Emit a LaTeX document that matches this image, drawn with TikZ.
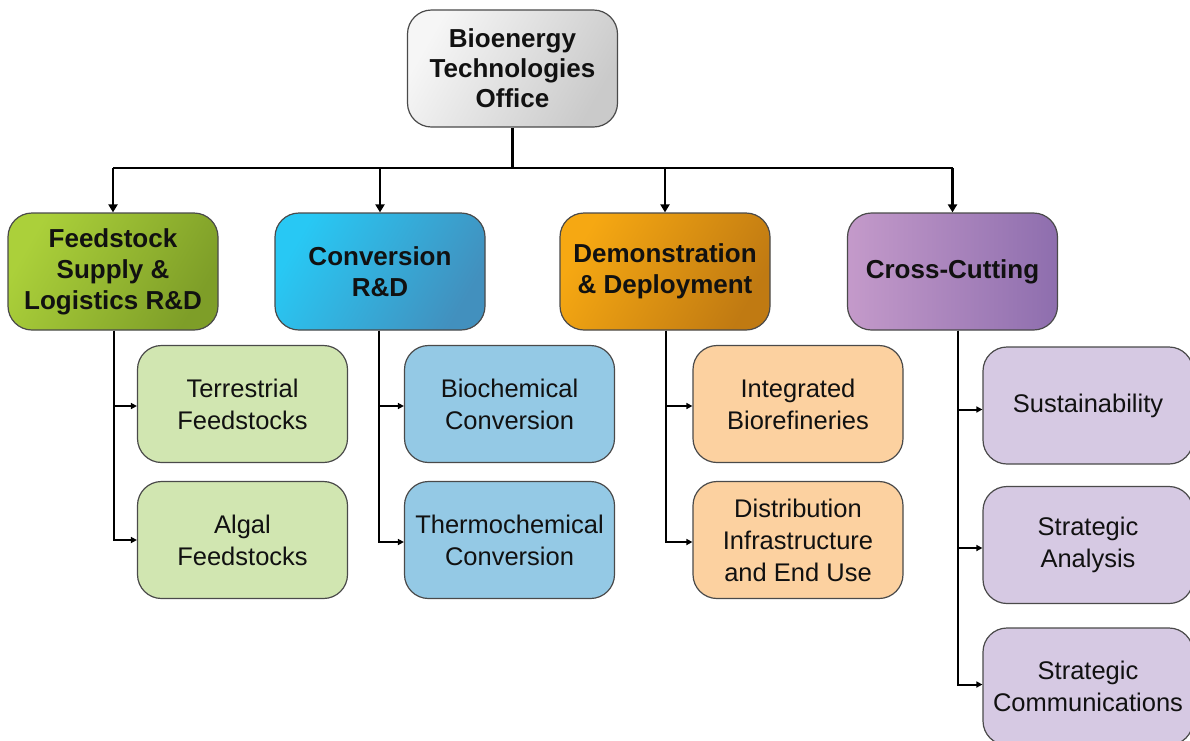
\documentclass[tikz,border=0pt]{standalone}
\usepackage{fontspec}
\setmainfont{Liberation Sans}
\usetikzlibrary{arrows.meta}
\definecolor{txt}{HTML}{111111}
\definecolor{edge}{HTML}{4A4A4A}
\definecolor{topA}{HTML}{F6F6F6}
\definecolor{topB}{HTML}{CACACA}
\definecolor{grA}{HTML}{ABD03A}
\definecolor{grB}{HTML}{7E9E28}
\definecolor{blA}{HTML}{28C8F4}
\definecolor{blB}{HTML}{4290BE}
\definecolor{orA}{HTML}{F6A812}
\definecolor{orB}{HTML}{C07A12}
\definecolor{puA}{HTML}{C49ACA}
\definecolor{puB}{HTML}{8E6EAE}
\definecolor{grL}{HTML}{D1E6B1}
\definecolor{blL}{HTML}{94C9E5}
\definecolor{orL}{HTML}{FCD1A0}
\definecolor{puL}{HTML}{D6C9E3}
\tikzset{
  box/.style={draw=edge, line width=1.2pt, rounded corners=24pt,
    minimum width=210pt, minimum height=117pt, align=center, text=txt,
    inner sep=0pt},
  headbox/.style={box, font=\fontsize{26}{31}\selectfont\bfseries},
  subbox/.style={box, font=\fontsize{25.5}{32}\selectfont},
  mainline/.style={line width=2.3pt, draw=black},
  mainarrow/.style={mainline, -{Triangle[length=8pt,width=9pt]}},
  subarrow/.style={line width=2pt, draw=black, -{Triangle[length=6pt,width=6pt]}},
}
\begin{document}
\begin{tikzpicture}[x=1pt,y=-1pt]
\useasboundingbox (0,0) rectangle (1190,740);
\clip (0,0) rectangle (1190,740);
\fill[white] (0,0) rectangle (1190,740);

% top
\node[headbox, font=\fontsize{26}{30}\selectfont\bfseries, left color=topA, right color=topB, shading angle=60] (top) at (512.5,68.5) {Bioenergy\\Technologies\\Office};

% categories
\node[headbox, left color=grA, right color=grB, shading angle=60] (fs) at (113,271.5) {Feedstock\\Supply \&\\Logistics R\&D};
\node[headbox, left color=blA, right color=blB, shading angle=60] (cv) at (380,271.5) {Conversion\\R\&D};
\node[headbox, left color=orA, right color=orB, shading angle=60] (dd) at (665,271.5) {Demonstration\\\& Deployment};
\node[headbox, left color=puA, right color=puB] (cc) at (952.5,271.5) {Cross-Cutting};

% sub boxes
\node[subbox, fill=grL] (tf) at (242.5,404) {Terrestrial\\Feedstocks};
\node[subbox, fill=grL] (af) at (242.5,540) {Algal\\Feedstocks};
\node[subbox, fill=blL] (bc) at (509.5,404) {Biochemical\\Conversion};
\node[subbox, fill=blL] (tc) at (509.5,540) {Thermochemical\\Conversion};
\node[subbox, fill=orL] (ib) at (798,404) {Integrated\\Biorefineries};
\node[subbox, fill=orL] (di) at (798,540) {Distribution\\Infrastructure\\and End Use};
\node[subbox, fill=puL] (su) at (1088,405.5) {Sustainability};
\node[subbox, fill=puL] (sa) at (1088,545) {Strategic\\Analysis};
\node[subbox, fill=puL] (sc) at (1088,686.5) {Strategic\\Communications};

% top connectors
\coordinate (bar) at (0,168);
\draw[mainline] (top.south) -- (top.south |- bar);
\draw[mainline] (fs.north |- bar) -- (cc.north |- bar);
\draw[mainarrow] (fs.north |- bar) -- (fs.north);
\draw[mainarrow] (cv.north |- bar) -- (cv.north);
\draw[mainarrow] (dd.north |- bar) -- (dd.north);
\draw[mainarrow] (cc.north |- bar) -- (cc.north);

% sub connectors
\coordinate (fsd) at ([xshift=1pt]fs.south);
\coordinate (cvd) at ([xshift=-1pt]cv.south);
\coordinate (ddd) at ([xshift=1pt]dd.south);
\coordinate (ccd) at ([xshift=5pt]cc.south);
\draw[subarrow] (fsd) |- ([yshift=-2pt]tf.west);
\draw[subarrow] (fsd) |- (af.west);
\draw[subarrow] (cvd) |- ([yshift=-2pt]bc.west);
\draw[subarrow] (cvd) |- ([yshift=-2pt]tc.west);
\draw[subarrow] (ddd) |- ([yshift=-2pt]ib.west);
\draw[subarrow] (ddd) |- ([yshift=-2pt]di.west);
\draw[subarrow] (ccd) |- ([yshift=-4pt]su.west);
\draw[subarrow] (ccd) |- ([yshift=-3pt]sa.west);
\draw[subarrow] (ccd) |- ([yshift=2pt]sc.west);
\end{tikzpicture}
\end{document}
